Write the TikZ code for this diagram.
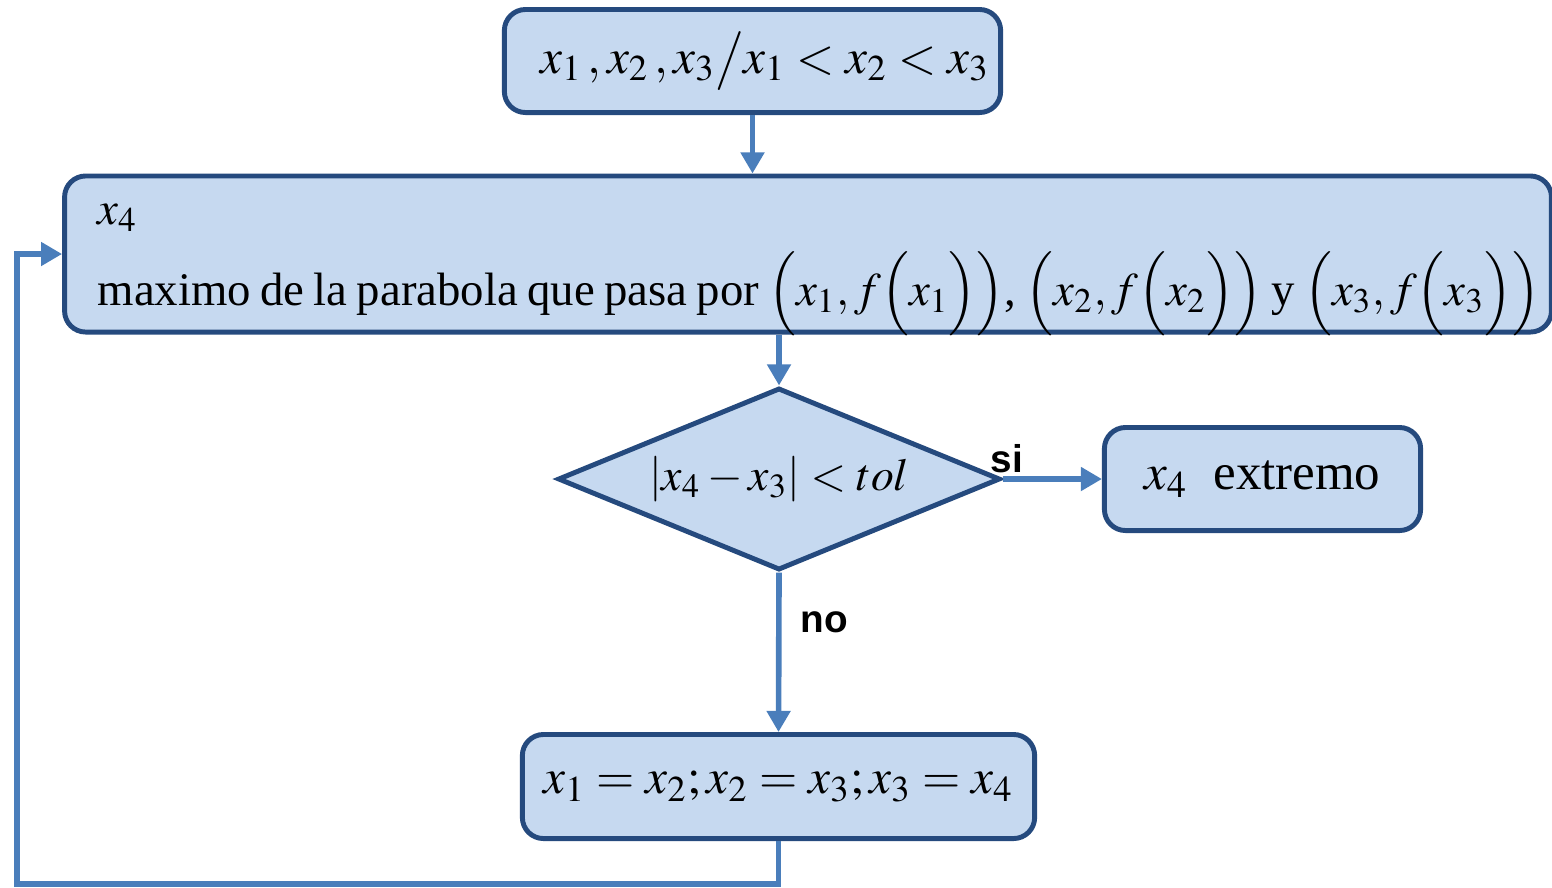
\documentclass[tikz,border=0pt]{standalone}
\usepackage{amsmath}
\usepackage{mathptmx}
\usepackage[no-math]{fontspec}
\setmainfont{Liberation Serif}
\setsansfont{Liberation Sans}
\usetikzlibrary{positioning}
\usetikzlibrary{shapes}
\usetikzlibrary{arrows.meta}
\definecolor{boxfill}{RGB}{198,217,240}
\definecolor{boxline}{RGB}{37,74,126}
\definecolor{flecha}{RGB}{74,126,187}

\begin{document}
\begin{tikzpicture}[x=0.01cm, y=-0.01cm,
	caja/.style={rectangle, rounded corners=6pt, fill=boxfill, draw=boxline, line width=1.4pt, inner sep=0pt, align=center, font=\fontsize{14}{17}\selectfont},
	rombo/.style={diamond, fill=boxfill, draw=boxline, line width=1.4pt, inner sep=0pt, aspect=2.43, font=\fontsize{13}{16}\selectfont},
	texto/.style={inner sep=0pt, anchor=base west, font=\fontsize{13.3}{16}\selectfont},
	flujo/.style={-{Triangle[length=6pt,width=6.5pt]}, draw=flecha, line width=1.6pt},
	etiq/.style={font=\sffamily\bfseries\fontsize{11}{13}\selectfont, inner sep=0pt}]
		\useasboundingbox (0,0) rectangle (1552,887);
		\node[caja, minimum width=4.96cm, minimum height=1.03cm](one)   at (752.5,61) {\hspace{0.25cm}$x_1\,, x_2\,, x_3\big/ x_1 < x_2 < x_3$};
		\node[caja, minimum width=14.86cm, minimum height=1.56cm](two) at (808,254) {};
		\node[texto](twoa) at (97,224) {$x_4$};
		\node[texto](twob) at (97,305) {\spaceskip=0.2em maximo de la parabola que pasa por $\Bigl(x_1,f\Bigl(x_1\Bigr)\Bigr)$, $\Bigl(x_2,f\Bigl(x_2\Bigr)\Bigr)$ y $\Bigl(x_3,f\Bigl(x_3\Bigr)\Bigr)$};
		\node[rombo, minimum width=4.42cm, minimum height=1.82cm](three) at (779,479) {$\left|x_4-x_3\right|<tol$};
		\node[caja, minimum width=3.16cm, minimum height=1.03cm, font=\fontsize{14.5}{17}\selectfont](four)  at (1262.5,479) {$x_4$\ \ extremo};
		\node[caja, minimum width=5.12cm, minimum height=1.04cm](five)  at (778.5,786.5) {$x_1=x_2;x_2=x_3;x_3=x_4$};
		\node[etiq, anchor=base west](si) at (990,472) {si};
		\node[etiq, anchor=base west](no) at (800,632) {no};
		\coordinate (abajo) at (17,884);
		\draw [flujo] (one.south) -- (one.south |- two.north);
		\draw [flujo] (two.south -| three.north) -- (three.north);
		\draw [flujo] (three.east) -- (four.west);
		\draw [flujo] (three.south) -- (five.north);
		\draw [flujo] (five.south) |- (abajo) |- (two.west);
	\end{tikzpicture}
\end{document}
